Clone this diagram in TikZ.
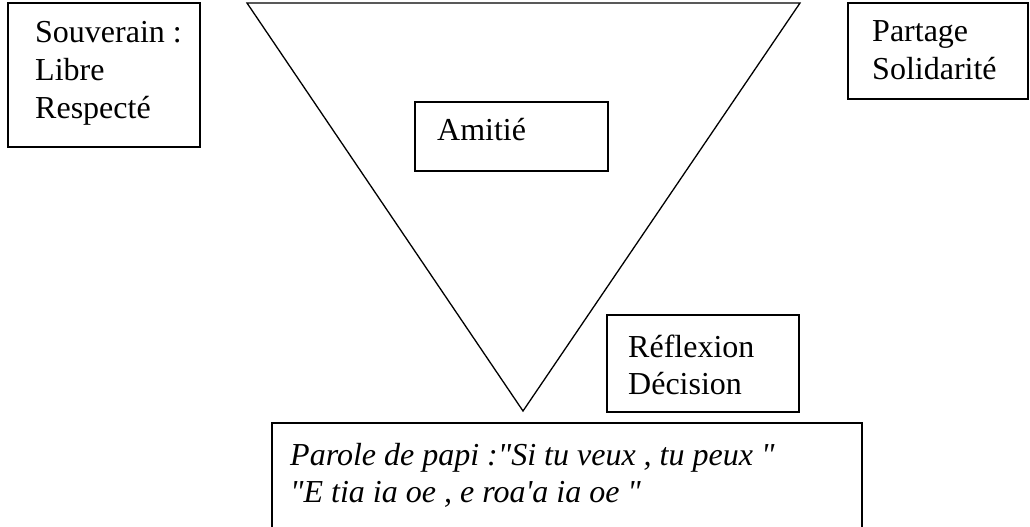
\documentclass[tikz,border=0pt]{standalone}
\usepackage{fontspec}
\setmainfont{Liberation Serif}[Ligatures=TeXOff]
\usetikzlibrary{positioning}
\tikzstyle{page} = [x = 1pt, y = -1pt]
\tikzstyle{boxLine} = [color=black, line width=1.6pt]
\tikzstyle{triangleLine} = [color=black, line width=1.3pt, line join=miter]
\tikzstyle{boxText} = [anchor=base west, inner sep=0pt, font=\fontsize{32}{37.5}\selectfont]
\tikzstyle{quoteText} = [boxText, font=\fontsize{32}{37.5}\selectfont\itshape]
\newcommand{\frameBox}[4]{\draw [boxLine] (#1,#2) rectangle (#3,#4);}
\newcommand{\lineText}[4]{\node [boxText] (#1) at (#2,#3) {#4};}
\newcommand{\quoteLine}[4]{\node [quoteText] (#1) at (#2,#3) {#4};}

\begin{document}
\begin{tikzpicture}[page]
  \useasboundingbox (0,0) rectangle (1030,527);
  \clip (0,0) rectangle (1030,527);

  % triangle
  \coordinate (topLeft) at (247,3);
  \coordinate (topRight) at (800,3);
  \coordinate (apex) at (523,411);
  \draw [triangleLine] (topLeft) -- (topRight) -- (apex) -- cycle;

  % boxes
  \frameBox{8}{3}{200}{147}
  \frameBox{848}{3}{1028}{99}
  \frameBox{415}{102}{608}{171}
  \frameBox{607}{315}{799}{412}
  \frameBox{272}{423}{862}{540}

  % texts
  \lineText{souverain}{35}{43}{Souverain :}
  \lineText{libre}{35}{80.5}{Libre}
  \lineText{respecte}{35}{118}{Respecté}
  \lineText{partage}{872}{42}{Partage}
  \lineText{solidarite}{872}{79.5}{Solidarité}
  \lineText{amitie}{437}{140}{Amitié}
  \lineText{reflexion}{628}{357}{Réflexion}
  \lineText{decision}{628}{394.5}{Décision}
  \quoteLine{parole}{290}{465}{Parole de papi :"Si tu veux , tu peux "}
  \quoteLine{tia}{290}{502.5}{"E tia ia oe , e roa'a ia oe "}
\end{tikzpicture}
\end{document}
